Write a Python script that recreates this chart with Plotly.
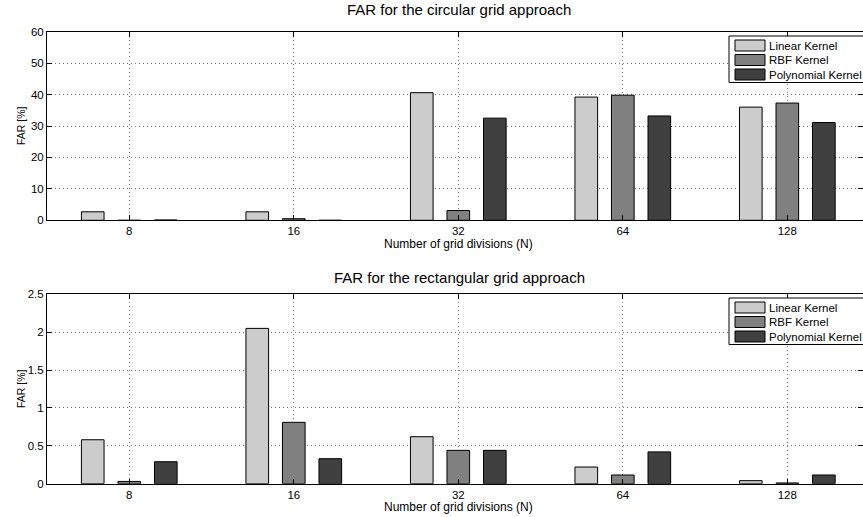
import plotly.graph_objects as go

categories = ["8", "16", "32", "64", "128"]
series_names = ["Linear Kernel", "RBF Kernel", "Polynomial Kernel"]
circular_linear = [2.7, 2.7, 40.6, 39.2, 36.0]
circular_rbf = [0.0, 0.5, 3.1, 39.8, 37.3]
circular_poly = [0.1, 0.0, 32.5, 33.2, 31.1]
rect_linear = [0.58, 2.05, 0.62, 0.22, 0.04]
rect_rbf = [0.03, 0.81, 0.44, 0.115, 0.01]
rect_poly = [0.29, 0.33, 0.44, 0.42, 0.115]
colors = ["#cccccc", "#808080", "#404040"]
titles = ["FAR for the circular grid approach", "FAR for the rectangular grid approach"]
x_title = "Number of grid divisions (N)"
y_title = "FAR [%]"

W, H = 863, 517
L = 47
fig = go.Figure()

top = [circular_linear, circular_rbf, circular_poly]
bot = [rect_linear, rect_rbf, rect_poly]
for i, name in enumerate(series_names):
    fig.add_trace(go.Bar(x=categories, y=top[i], name=name, showlegend=False,
                         marker=dict(color=colors[i], line=dict(color="black", width=1)),
                         xaxis="x", yaxis="y"))
for i, name in enumerate(series_names):
    fig.add_trace(go.Bar(x=categories, y=bot[i], name=name, showlegend=False,
                         marker=dict(color=colors[i], line=dict(color="black", width=1)),
                         xaxis="x2", yaxis="y2"))

font = "Liberation Sans, Arial, sans-serif"
axis_common = dict(showline=True, linecolor="black", linewidth=1, mirror="ticks", ticks="inside", ticklen=5,
                   tickcolor="black", showgrid=True, gridcolor="#777777", griddash="1px,3px", gridwidth=1,
                   tickfont=dict(size=11.5, color="black", family=font), zeroline=False, automargin=False)

def py(px):
    return 1 - px / H

def pxx(px):
    return (px - L) / (W - L)

shapes = []
annotations = []
for k, (title_y, xt_y, yt_y) in enumerate([(10, 243.5, 126), (277, 507, 389)]):
    annotations.append(dict(text=titles[k], x=pxx(459), y=py(title_y), xref="paper", yref="paper",
                            xanchor="center", yanchor="middle", showarrow=False, font=dict(size=15)))
    annotations.append(dict(text=x_title, x=pxx(458), y=py(xt_y), xref="paper", yref="paper",
                            xanchor="center", yanchor="middle", showarrow=False, font=dict(size=12)))
    annotations.append(dict(text=y_title, x=pxx(21), y=py(yt_y), xref="paper", yref="paper", textangle=-90,
                            xanchor="center", yanchor="middle", showarrow=False, font=dict(size=10.5)))

# MATLAB-style legends, box cut at the right edge
for top_px in (36, 298):
    shapes.append(dict(type="rect", xref="paper", yref="paper", x0=pxx(729), x1=pxx(870),
                       y0=py(top_px + 46.5), y1=py(top_px), fillcolor="white", line=dict(color="black", width=1),
                       layer="above"))
    for i, name in enumerate(series_names):
        cy = top_px + 9.5 + i * 14.5
        shapes.append(dict(type="rect", xref="paper", yref="paper", x0=pxx(735), x1=pxx(765),
                           y0=py(cy + 5.5), y1=py(cy - 5.5), fillcolor=colors[i],
                           line=dict(color="black", width=1), layer="above"))
        annotations.append(dict(text=name, x=pxx(767), y=py(cy), xref="paper", yref="paper",
                                xanchor="left", yanchor="middle", showarrow=False, font=dict(size=11.5)))

fig.update_layout(
    width=W, height=H,
    margin=dict(l=L, r=0, t=0, b=0),
    paper_bgcolor="white", plot_bgcolor="white",
    barmode="group", bargap=0.334, bargroupgap=0.38,
    font=dict(family=font, color="black"),
    showlegend=False,
    xaxis=dict(domain=[0, 1], anchor="y", type="category", range=[-0.5, 4.46], **axis_common),
    yaxis=dict(domain=[py(220.3), py(31.7)], anchor="x", range=[0, 60], dtick=10, **axis_common),
    xaxis2=dict(domain=[0, 1], anchor="y2", type="category", range=[-0.5, 4.46], **axis_common),
    yaxis2=dict(domain=[py(483.7), py(294.3)], anchor="x2", range=[0, 2.5], dtick=0.5, **axis_common),
    shapes=shapes,
    annotations=annotations,
)

fig.write_html("out.html", config={"displayModeBar": False},
               post_script="document.body.style.margin='0px';")
